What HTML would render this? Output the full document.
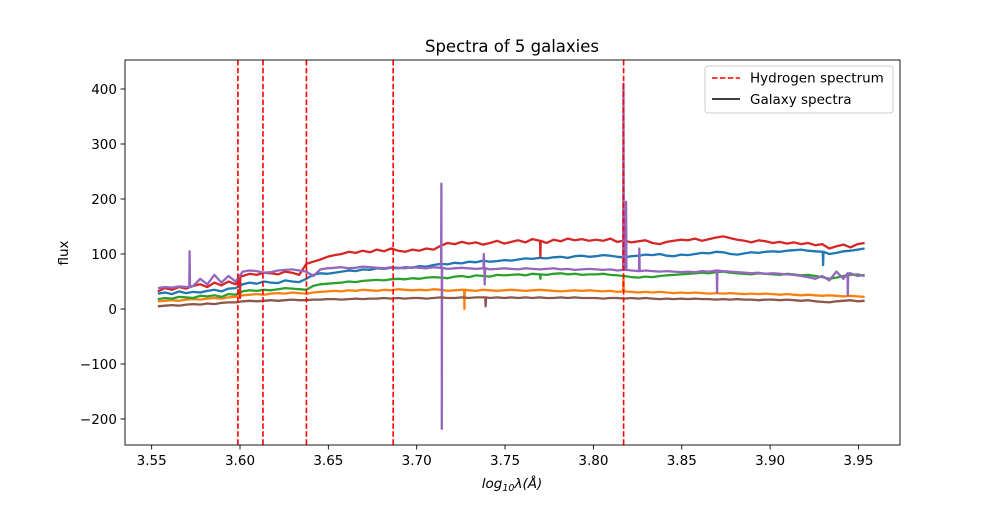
<!DOCTYPE html>
<html><head><meta charset="utf-8"><style>
body{margin:0;background:#fff}
svg text{font-family:"DejaVu Sans","Liberation Sans",sans-serif;}
</style></head><body>
<svg id="chart" width="1000" height="500" xmlns="http://www.w3.org/2000/svg">
<rect width="1000" height="500" fill="#fff"/>
<text x="512" y="52" font-size="16.5" text-anchor="middle">Spectra of 5 galaxies</text>
<g id="plot"></g>
<rect x="125" y="60" width="775" height="385" fill="none" stroke="#000" stroke-width="0.9"/>
<g id="xt"></g>
<g id="yt"></g>
<text transform="translate(68,253) rotate(-90)" font-size="13.5" text-anchor="middle">flux</text>
<text x="512" y="488" font-size="13.5" text-anchor="middle" font-style="italic">log<tspan font-size="9.5" dy="3">10</tspan><tspan dy="-3">λ(Å)</tspan></text>
<g>
<rect x="705" y="66" width="188" height="47" rx="3" fill="#fff" fill-opacity="0.8" stroke="#ccc"/>
<line x1="712" y1="78" x2="740" y2="78" stroke="#ff0000" stroke-width="1.5" stroke-dasharray="5.5,2.4"/>
<text x="750" y="82.5" font-size="13.5">Hydrogen spectrum</text>
<line x1="712" y1="99" x2="740" y2="99" stroke="#000" stroke-width="1.5"/>
<text x="750" y="104" font-size="13.5">Galaxy spectra</text>
</g>
</svg>
<script>
const xStart=3.5535, xStep=0.004;
const xTicks=[3.55,3.60,3.65,3.70,3.75,3.80,3.85,3.90,3.95];
const xTickLabels=["3.55","3.60","3.65","3.70","3.75","3.80","3.85","3.90","3.95"];
const yTicks=[-200,-100,0,100,200,300,400];
const hLines=[3.5988,3.6130,3.6376,3.6867,3.8171];
const blue=[28,30,27,32,29,31,30,33,35,32,37,38,45,48,46,50,48,47,52,50,49,55,62,65,64,66,68,70,69,72,71,74,73,75,74,76,75,78,77,80,82,81,84,83,86,85,88,86,87,89,88,90,92,91,93,92,94,95,93,96,97,95,96,98,97,95,94,96,97,99,98,100,97,96,99,98,100,102,101,104,103,100,99,101,103,102,104,105,104,106,107,108,106,105,104,100,102,105,106,108,110];
const orange=[14,15,16,15,17,18,17,19,20,19,21,22,25,26,27,26,28,29,28,30,29,28,30,31,32,33,32,34,33,35,34,33,35,34,36,35,34,35,34,36,35,33,34,35,34,33,35,34,33,34,35,34,33,34,35,34,33,32,33,34,33,34,33,32,33,31,32,31,30,31,30,31,30,29,30,29,30,29,28,29,28,29,28,27,28,27,28,27,26,27,26,25,26,25,24,25,24,23,24,23,22];
const green=[18,20,19,22,21,20,24,23,25,22,27,26,32,34,33,35,34,36,38,37,36,35,42,45,46,47,48,50,49,51,52,53,52,54,55,54,56,55,57,58,57,56,59,60,58,61,60,59,62,61,62,63,61,64,63,62,64,65,63,64,62,63,63,64,62,61,60,58,57,59,58,60,61,62,63,64,65,66,65,67,68,66,65,64,63,65,64,63,62,64,63,61,62,60,58,55,57,60,62,63,60];
const red=[32,38,35,40,37,42,45,40,48,43,50,45,60,64,62,66,65,63,68,66,62,82,86,90,95,98,100,104,102,106,103,108,105,110,106,104,108,106,110,108,115,120,118,122,119,121,117,120,124,119,122,125,121,127,124,120,126,123,128,125,127,124,126,124,128,122,124,121,123,125,120,118,122,124,126,125,128,124,127,130,132,129,126,124,121,125,123,120,122,119,121,118,120,116,118,110,114,117,112,118,120];
const purple=[38,40,39,41,40,42,55,45,62,48,60,50,68,70,69,66,67,70,71,72,70,68,60,72,74,75,76,74,75,77,76,75,74,76,75,74,76,75,74,76,75,73,74,75,74,73,74,72,73,74,73,72,74,73,72,73,74,72,73,71,72,73,72,71,72,70,71,70,69,70,69,68,69,68,67,68,67,69,68,70,69,68,67,66,65,66,64,65,64,63,62,60,58,55,60,52,68,55,65,60,62];
const brown=[5,6,7,6,8,9,8,10,9,11,12,12,14,15,14,15,16,15,16,17,16,16,17,17,18,18,17,18,19,18,19,19,20,19,20,19,20,20,19,20,21,20,20,21,20,21,21,20,21,20,21,20,21,20,21,20,20,21,20,21,20,20,20,19,20,20,19,20,19,20,19,18,19,18,19,18,19,18,18,17,18,17,18,17,17,16,17,17,16,17,16,15,16,14,13,12,14,15,16,14,15];
const blueSpikes=[[3.817,170],[3.93,80]];
const orangeSpikes=[[3.727,0],[3.817,60]];
const greenSpikes=[[3.77,55]];
const redSpikes=[[3.6,20],[3.77,95],[3.817,150]];
const purpleSpikes=[[3.5715,105],[3.714,228],[3.7142,-218],[3.738,100],[3.7385,45],[3.817,410],[3.8185,195],[3.826,110],[3.87,30],[3.944,25]];
const brownSpikes=[[3.739,5]];
const NS="http://www.w3.org/2000/svg";
const xs=v=>240+(v-3.6)*1767;
const ys=v=>309-v*0.55;
function mk(t,a,p){const e=document.createElementNS(NS,t);for(const k in a)e.setAttribute(k,a[k]);p.appendChild(e);return e;}
const plot=document.getElementById('plot');
const series=[[blue,blueSpikes,'#1f77b4','series-blue'],[orange,orangeSpikes,'#ff7f0e','series-orange'],[green,greenSpikes,'#2ca02c','series-green'],[red,redSpikes,'#d62728','series-red'],[purple,purpleSpikes,'#9467bd','series-purple'],[brown,brownSpikes,'#8c564b','series-brown']];
series.forEach(s=>{
  let pts=s[0].map((v,i)=>[xStart+i*xStep,v]);
  s[1].forEach(p=>{const base=s[0][Math.min(100,Math.round((p[0]-xStart)/xStep))];pts.push([p[0]-0.0002,base],[p[0],p[1]],[p[0]+0.0002,base]);});
  pts.sort((a,b)=>a[0]-b[0]);
  const d='M'+pts.map(p=>xs(p[0]).toFixed(1)+','+ys(p[1]).toFixed(1)).join('L');
  const e=mk('path',{d:d,fill:'none',stroke:s[2],'stroke-width':2.3,'stroke-linejoin':'round'},plot);
  
  
});
hLines.forEach(v=>{
  const e=mk('line',{x1:xs(v),x2:xs(v),y1:60,y2:445,stroke:'#ff0000','stroke-width':1.6,'stroke-dasharray':'5.5,2.4'},plot);
  
  
});
const xt=document.getElementById('xt');
xTicks.forEach((v,i)=>{
  mk('line',{x1:xs(v),x2:xs(v),y1:445,y2:449.5,stroke:'#000','stroke-width':0.9},xt);
  const t=mk('text',{x:xs(v),y:465,'font-size':13.5,'text-anchor':'middle'},xt);
  t.textContent=xTickLabels[i];
  
  
});
const yt=document.getElementById('yt');
yTicks.forEach(v=>{
  mk('line',{x1:125,x2:120.5,y1:ys(v),y2:ys(v),stroke:'#000','stroke-width':0.9},yt);
  const t=mk('text',{x:117,y:ys(v)+5,'font-size':13.5,'text-anchor':'end'},yt);
  t.textContent=String(v).replace('-','−');
  
  
});
</script>
</body></html>
